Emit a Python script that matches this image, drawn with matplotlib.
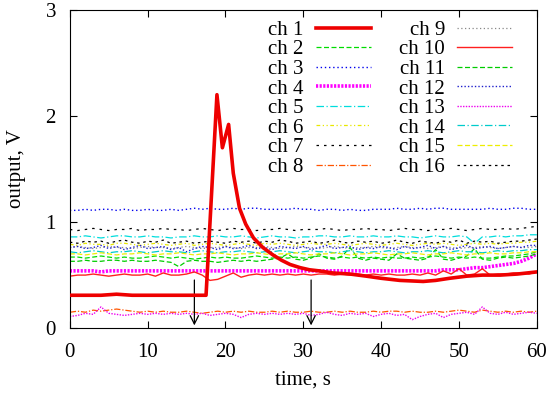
import numpy as np
import matplotlib
matplotlib.use("Agg")
import matplotlib.pyplot as plt

plt.rcParams['font.family'] = ['Liberation Serif', 'DejaVu Serif']
plt.rcParams['font.size'] = 15

time = list(range(61))

# ch 1 (the sensor that reacts)
t1 = [0, 2, 4, 6, 8, 10, 12, 14, 16, 17.5, 18.9, 19.6, 20.4, 21.0, 21.8, 22.6, 23.6, 24.8,
      26.1, 27.2, 28.3, 29.6, 30.8, 32.0, 33.8, 36.0, 38.1, 40.0, 42.4, 45.4, 47.0, 48.8,
      51.0, 53.0, 55.3, 57.5, 60.0]
ch1 = [0.31, 0.31, 0.31, 0.32, 0.31, 0.31, 0.31, 0.31, 0.31, 0.31, 2.20, 1.70, 1.92, 1.46,
       1.13, 0.98, 0.85, 0.76, 0.69, 0.64, 0.60, 0.57, 0.55, 0.54, 0.52, 0.51, 0.49, 0.47,
       0.45, 0.44, 0.45, 0.47, 0.49, 0.50, 0.50, 0.51, 0.53]

ch2 = [0.67, 0.67, 0.66, 0.67, 0.68, 0.67, 0.66, 0.67, 0.66, 0.66, 0.67, 0.68, 0.67, 0.66,
       0.67, 0.66, 0.65, 0.66, 0.67, 0.66, 0.67, 0.66, 0.66, 0.67, 0.68, 0.67, 0.66, 0.67,
       0.66, 0.67, 0.66, 0.67, 0.68, 0.67, 0.66, 0.67, 0.66, 0.67, 0.66, 0.67, 0.66, 0.67,
       0.66, 0.66, 0.67, 0.66, 0.67, 0.68, 0.67, 0.66, 0.67, 0.66, 0.67, 0.66, 0.66, 0.67,
       0.68, 0.68, 0.69, 0.70, 0.72]
ch3 = [1.11, 1.11, 1.12, 1.11, 1.12, 1.12, 1.11, 1.12, 1.11, 1.11, 1.12, 1.11, 1.11, 1.12,
       1.11, 1.12, 1.13, 1.12, 1.13, 1.12, 1.12, 1.13, 1.12, 1.13, 1.13, 1.12, 1.12, 1.12,
       1.12, 1.13, 1.12, 1.12, 1.11, 1.12, 1.12, 1.11, 1.12, 1.11, 1.11, 1.12, 1.12, 1.12,
       1.13, 1.12, 1.12, 1.13, 1.12, 1.13, 1.13, 1.12, 1.12, 1.12, 1.12, 1.12, 1.13, 1.12,
       1.12, 1.13, 1.13, 1.12, 1.12]
ch4 = [0.54, 0.54, 0.54, 0.54, 0.53, 0.54, 0.54, 0.54, 0.54, 0.54, 0.54, 0.54, 0.54, 0.54,
       0.54, 0.54, 0.54, 0.54, 0.54, 0.54, 0.54, 0.54, 0.54, 0.54, 0.54, 0.54, 0.54, 0.54,
       0.54, 0.54, 0.54, 0.54, 0.54, 0.54, 0.54, 0.54, 0.54, 0.54, 0.54, 0.54, 0.54, 0.54,
       0.54, 0.54, 0.54, 0.54, 0.54, 0.54, 0.55, 0.55, 0.55, 0.56, 0.57, 0.57, 0.58, 0.59,
       0.60, 0.61, 0.63, 0.66, 0.70]
ch5 = [0.86, 0.86, 0.87, 0.86, 0.85, 0.86, 0.87, 0.87, 0.86, 0.86, 0.87, 0.86, 0.86, 0.85,
       0.86, 0.86, 0.87, 0.86, 0.86, 0.87, 0.86, 0.86, 0.87, 0.86, 0.85, 0.86, 0.87, 0.86,
       0.86, 0.85, 0.86, 0.86, 0.87, 0.87, 0.86, 0.86, 0.87, 0.86, 0.86, 0.87, 0.86, 0.86,
       0.87, 0.86, 0.86, 0.85, 0.86, 0.87, 0.86, 0.86, 0.87, 0.86, 0.80, 0.86, 0.86, 0.87,
       0.86, 0.87, 0.87, 0.88, 0.88]
ch6 = [0.79, 0.78, 0.80, 0.79, 0.79, 0.78, 0.80, 0.80, 0.79, 0.78, 0.79, 0.80, 0.79, 0.78,
       0.79, 0.80, 0.78, 0.79, 0.80, 0.79, 0.78, 0.79, 0.80, 0.79, 0.78, 0.80, 0.79, 0.80,
       0.79, 0.78, 0.79, 0.80, 0.79, 0.79, 0.80, 0.79, 0.78, 0.79, 0.80, 0.79, 0.78, 0.79,
       0.80, 0.79, 0.78, 0.79, 0.80, 0.79, 0.80, 0.79, 0.78, 0.79, 0.80, 0.79, 0.80, 0.79,
       0.80, 0.80, 0.81, 0.81, 0.82]
ch7 = [0.93, 0.92, 0.93, 0.94, 0.93, 0.92, 0.93, 0.93, 0.94, 0.92, 0.93, 0.93, 0.94, 0.93,
       0.93, 0.92, 0.93, 0.94, 0.93, 0.92, 0.93, 0.94, 0.93, 0.93, 0.92, 0.93, 0.93, 0.94,
       0.93, 0.92, 0.93, 0.93, 0.93, 0.94, 0.93, 0.92, 0.93, 0.93, 0.94, 0.93, 0.93, 0.92,
       0.93, 0.94, 0.93, 0.93, 0.92, 0.93, 0.93, 0.94, 0.93, 0.92, 0.93, 0.94, 0.93, 0.93,
       0.94, 0.93, 0.94, 0.95, 0.96]
ch8 = [0.15, 0.16, 0.15, 0.17, 0.16, 0.17, 0.18, 0.17, 0.16, 0.15, 0.16, 0.15, 0.16, 0.15,
       0.15, 0.16, 0.15, 0.14, 0.15, 0.16, 0.15, 0.16, 0.15, 0.16, 0.15, 0.15, 0.16, 0.15,
       0.16, 0.15, 0.15, 0.16, 0.15, 0.15, 0.16, 0.15, 0.16, 0.15, 0.15, 0.16, 0.15, 0.16,
       0.16, 0.15, 0.16, 0.15, 0.15, 0.16, 0.15, 0.16, 0.17, 0.16, 0.15, 0.17, 0.16, 0.15,
       0.16, 0.15, 0.16, 0.15, 0.16]
ch9 = [0.76, 0.77, 0.76, 0.75, 0.76, 0.77, 0.76, 0.76, 0.75, 0.76, 0.77, 0.76, 0.76, 0.75,
       0.76, 0.77, 0.76, 0.75, 0.76, 0.76, 0.77, 0.76, 0.75, 0.76, 0.76, 0.77, 0.76, 0.75,
       0.76, 0.77, 0.76, 0.76, 0.75, 0.76, 0.77, 0.76, 0.75, 0.76, 0.76, 0.77, 0.76, 0.75,
       0.76, 0.77, 0.76, 0.76, 0.75, 0.76, 0.77, 0.76, 0.75, 0.76, 0.76, 0.77, 0.76, 0.75,
       0.76, 0.77, 0.76, 0.76, 0.77]
ch10 = [0.49, 0.50, 0.50, 0.51, 0.50, 0.49, 0.50, 0.51, 0.50, 0.50, 0.51, 0.49, 0.52, 0.50,
        0.50, 0.51, 0.53, 0.50, 0.45, 0.46, 0.49, 0.52, 0.48, 0.50, 0.51, 0.50, 0.51, 0.50,
        0.51, 0.50, 0.51, 0.50, 0.51, 0.51, 0.50, 0.51, 0.50, 0.51, 0.50, 0.51, 0.50, 0.51,
        0.50, 0.50, 0.51, 0.50, 0.52, 0.50, 0.54, 0.51, 0.56, 0.50, 0.51, 0.56, 0.50, 0.51,
        0.51, 0.52, 0.52, 0.51, 0.53]
ch11 = [0.63, 0.63, 0.64, 0.63, 0.63, 0.64, 0.64, 0.63, 0.64, 0.63, 0.63, 0.64, 0.63, 0.62,
        0.58, 0.63, 0.64, 0.63, 0.63, 0.62, 0.63, 0.64, 0.63, 0.64, 0.63, 0.64, 0.65, 0.66,
        0.70, 0.65, 0.64, 0.66, 0.70, 0.66, 0.65, 0.68, 0.76, 0.66, 0.64, 0.66, 0.65, 0.64,
        0.70, 0.66, 0.65, 0.64, 0.66, 0.74, 0.65, 0.64, 0.66, 0.68, 0.75, 0.65, 0.64, 0.66,
        0.67, 0.66, 0.67, 0.68, 0.70]
ch12 = [0.76, 0.77, 0.75, 0.76, 0.78, 0.75, 0.77, 0.74, 0.76, 0.78, 0.75, 0.76, 0.77, 0.74,
        0.76, 0.72, 0.75, 0.77, 0.76, 0.74, 0.77, 0.75, 0.76, 0.78, 0.75, 0.76, 0.74, 0.77,
        0.76, 0.75, 0.77, 0.74, 0.76, 0.78, 0.75, 0.76, 0.77, 0.74, 0.76, 0.75, 0.77, 0.76,
        0.74, 0.77, 0.75, 0.76, 0.78, 0.75, 0.77, 0.74, 0.76, 0.78, 0.75, 0.76, 0.77, 0.75,
        0.76, 0.77, 0.76, 0.78, 0.78]
ch13 = [0.11, 0.12, 0.14, 0.13, 0.20, 0.14, 0.13, 0.12, 0.13, 0.14, 0.13, 0.14, 0.13, 0.14,
        0.13, 0.14, 0.13, 0.14, 0.12, 0.13, 0.14, 0.13, 0.10, 0.13, 0.14, 0.13, 0.14, 0.13,
        0.14, 0.13, 0.14, 0.12, 0.13, 0.15, 0.13, 0.12, 0.14, 0.13, 0.14, 0.11, 0.13, 0.14,
        0.12, 0.13, 0.08, 0.11, 0.13, 0.14, 0.10, 0.13, 0.14, 0.15, 0.13, 0.20, 0.14, 0.13,
        0.15, 0.13, 0.14, 0.15, 0.14]
ch14 = [0.72, 0.71, 0.72, 0.73, 0.72, 0.71, 0.72, 0.72, 0.73, 0.72, 0.71, 0.72, 0.73, 0.72,
        0.72, 0.71, 0.72, 0.73, 0.72, 0.71, 0.72, 0.72, 0.73, 0.72, 0.71, 0.72, 0.72, 0.73,
        0.72, 0.71, 0.72, 0.73, 0.72, 0.72, 0.71, 0.72, 0.73, 0.72, 0.71, 0.72, 0.72, 0.73,
        0.72, 0.71, 0.72, 0.72, 0.73, 0.72, 0.71, 0.72, 0.73, 0.72, 0.72, 0.71, 0.72, 0.73,
        0.72, 0.73, 0.73, 0.74, 0.74]
ch15 = [0.70, 0.70, 0.69, 0.70, 0.71, 0.70, 0.69, 0.70, 0.70, 0.71, 0.70, 0.69, 0.70, 0.70,
        0.71, 0.70, 0.69, 0.70, 0.70, 0.71, 0.70, 0.69, 0.70, 0.70, 0.71, 0.70, 0.69, 0.70,
        0.70, 0.71, 0.70, 0.69, 0.70, 0.70, 0.71, 0.70, 0.69, 0.70, 0.70, 0.71, 0.70, 0.69,
        0.70, 0.70, 0.71, 0.70, 0.69, 0.70, 0.70, 0.71, 0.70, 0.69, 0.70, 0.70, 0.71, 0.70,
        0.70, 0.71, 0.71, 0.72, 0.72]
ch16 = [0.81, 0.80, 0.82, 0.81, 0.82, 0.80, 0.82, 0.83, 0.81, 0.80, 0.82, 0.81, 0.83, 0.80,
        0.81, 0.82, 0.80, 0.81, 0.82, 0.81, 0.80, 0.82, 0.81, 0.82, 0.80, 0.82, 0.81, 0.83,
        0.82, 0.80, 0.81, 0.82, 0.80, 0.81, 0.83, 0.81, 0.80, 0.82, 0.81, 0.82, 0.80, 0.81,
        0.83, 0.81, 0.80, 0.82, 0.81, 0.80, 0.82, 0.81, 0.83, 0.80, 0.82, 0.81, 0.82, 0.80,
        0.81, 0.82, 0.82, 0.83, 0.84]

arrow_times = [16, 31]

series = [ch2, ch3, ch4, ch5, ch6, ch7, ch8, ch9, ch10, ch11, ch12, ch13, ch14, ch15, ch16]
styles = [
    dict(color='#00dd00', lw=0.9, ls=(0, (4, 2))),
    dict(color='#0000ee', lw=1.0, ls=(0, (1, 2))),
    dict(color='#ff00ff', lw=2.6, ls=(0, (0.6, 0.4))),
    dict(color='#00dddd', lw=0.9, ls=(0, (6, 2, 1, 2))),
    dict(color='#e8e800', lw=0.9, ls=(0, (3, 2, 1, 2, 1, 2))),
    dict(color='black', lw=0.9, ls=(0, (2, 4))),
    dict(color='#ff5500', lw=0.9, ls=(0, (5, 1.5, 1, 1.5))),
    dict(color='#888888', lw=0.9, ls=(0, (1, 2))),
    dict(color='#ff2020', lw=1.0, ls='-'),
    dict(color='#00cc00', lw=0.9, ls=(0, (4, 2))),
    dict(color='#2020cc', lw=1.0, ls=(0, (1, 1.5))),
    dict(color='#ee00ee', lw=1.0, ls=(0, (1, 1))),
    dict(color='#00cccc', lw=0.9, ls=(0, (6, 2, 1, 2))),
    dict(color='#eeee00', lw=0.9, ls=(0, (4, 2))),
    dict(color='black', lw=0.9, ls=(0, (2, 3))),
]

fig = plt.figure(figsize=(5.5, 3.93), dpi=100)
ax = fig.add_axes([0.127, 0.165, 0.849, 0.810])

handles = []
h, = ax.plot(t1, ch1, color='#ee0000', lw=2.6, label='ch 1', zorder=5)
handles.append(h)
for i, (vals, st) in enumerate(zip(series, styles)):
    h, = ax.plot(time, vals, label='ch %d' % (i + 2), **st)
    handles.append(h)

for ta in arrow_times:
    ax.annotate('', xy=(ta, 0.0), xytext=(ta, 0.48),
                arrowprops=dict(arrowstyle='->', color='black', lw=0.9))

ax.set_xlim(0, 60)
ax.set_ylim(0, 3)
ax.set_xticks([0, 10, 20, 30, 40, 50, 60])
ax.set_yticks([0, 1, 2, 3])
ax.tick_params(direction='in', top=True, right=True, length=5, width=0.8)
ax.tick_params(axis='x', pad=11)
ax.tick_params(axis='y', pad=10)
ax.set_xlabel('time, s', labelpad=6)
ax.set_ylabel('output, V', labelpad=14)

leg = ax.legend(handles=handles, ncol=2, loc='upper right', frameon=False,
                markerfirst=False, handlelength=2.65, labelspacing=0.0,
                columnspacing=1.35, handletextpad=0.58, fontsize=15,
                bbox_to_anchor=(0.97, 1.0), borderaxespad=0.1)
for txt in leg.get_texts():
    txt.set_ha('right')

fig.savefig('out.png', dpi=100)
